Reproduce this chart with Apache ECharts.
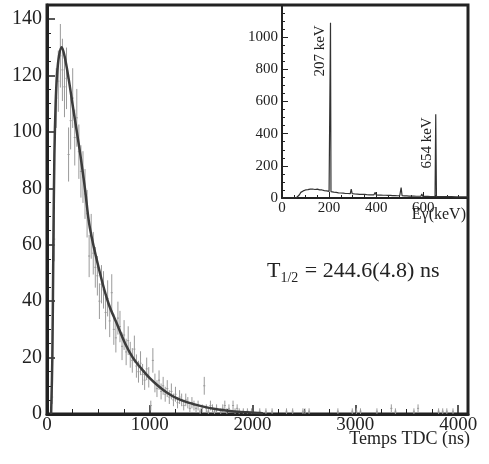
<!DOCTYPE html>
<html>
<head>
<meta charset="utf-8">
<script src="https://cdn.jsdelivr.net/npm/echarts@6/dist/echarts.min.js"></script>
<style>
  html, body { margin: 0; padding: 0; background: #fff; }
  #chart { width: 489px; height: 464px; }
</style>
</head>
<body>
<div id="chart"></div>
<script>
// TDC time spectrum, 20 ns bins from 0 to 2000 ns
var binWidth = 20;
var counts = [
  0, 0, 6, 62, 112, 118, 127, 122, 116, 119,
  92, 104, 112, 98, 105, 93, 86, 84, 78, 71,
  56, 63, 57, 52, 49, 40, 46, 44, 36, 41,
  33, 43, 30, 27, 34, 31, 24, 28, 22, 26,
  21, 19, 23, 17, 15, 18, 14, 12, 16, 13,
  3, 19, 11, 9, 12, 8, 10, 7, 9, 6,
  8, 5, 7, 4, 6, 5, 3, 5, 4, 2,
  4, 3, 2, 3, 1, 2, 10, 2, 1, 3,
  2, 1, 2, 0, 1, 2, 3, 1, 2, 0,
  3, 1, 2, 1, 0, 1, 0, 1, 0, 1
];
// sparse bins after 2000 ns: [bin start, count]
var tailBins = [
  [2060, 1], [2120, 1], [2180, 1], [2320, 1], [2380, 1], [2480, 1], [2500, 1],
  [2540, 1], [2820, 1], [2960, 1], [3000, 1], [3040, 1], [3200, 1], [3340, 2],
  [3380, 1], [3560, 1], [3600, 2], [3800, 1], [3840, 1], [3880, 1], [3940, 1]
];
// fitted curve
var fitTime  = [40, 52, 62, 72, 84, 97, 117, 143, 170, 210, 256, 320, 369, 417, 515, 600, 680, 760, 835, 920, 1000, 1080, 1165, 1260, 1360, 1500, 1650, 1800, 1950, 2100];
var fitValue = [0, 20, 60, 92, 110, 120, 127, 130, 127, 119, 108, 93, 80, 66, 50, 39, 32, 25, 20, 16, 12.7, 10, 7.6, 5.6, 4.2, 2.8, 1.7, 1.0, 0.6, 0.3];

// inset: gamma spectrum
var gammaE = [0, 60, 68, 74, 80, 90, 100, 110, 120, 130, 140, 150, 160, 170, 180, 190, 200, 204, 206, 208, 212,
  220, 230, 240, 250, 260, 270, 280, 290, 294, 298, 310, 320, 330, 340, 350, 360, 370, 380, 390, 396, 400,
  410, 420, 430, 440, 450, 460, 470, 480, 490, 500, 506, 510, 520, 530, 540, 550, 560, 570, 580, 590, 594,
  598, 610, 620, 630, 640, 650, 653, 656, 660, 680, 700, 720, 740, 760, 780, 790];
var gammaCounts = [0, 0, 2, 20, 35, 44, 50, 52, 55, 56, 53, 55, 51, 50, 46, 44, 41, 40, 1090, 40, 38,
  36, 35, 32, 31, 30, 28, 28, 27, 55, 27, 25, 24, 23, 22, 23, 21, 20, 20, 19, 35, 19,
  18, 18, 17, 17, 16, 16, 15, 15, 14, 14, 65, 14, 13, 13, 12, 12, 12, 11, 11, 11, 25,
  10, 10, 10, 9, 9, 9, 520, 9, 9, 8, 8, 8, 7, 7, 7, 7];

var serif = "'Liberation Serif', 'DejaVu Serif', serif";
var ink = '#222';

var histItems = [];
counts.forEach(function (n, i) {
  if (n > 0) histItems.push([i * binWidth, (i + 1) * binWidth, n]);
});
tailBins.forEach(function (b) {
  histItems.push([b[0], b[0] + binWidth, b[1]]);
});

var fitData = fitTime.map(function (t, i) { return [t, fitValue[i]]; });
var gammaData = gammaE.map(function (e, i) { return [e, gammaCounts[i]]; });

function plain(v) { return String(v); }

var myChart = echarts.init(document.getElementById('chart'));

myChart.setOption({
  backgroundColor: '#fff',
  animation: false,
  title: {
    left: 262,
    top: 252,
    text: '{t|T}{s|1/2}{t| = 244.6(4.8) ns}',
    textStyle: {
      rich: {
        t: { fontFamily: serif, fontSize: 22, fontWeight: 'normal', color: ink, lineHeight: 28 },
        s: { fontFamily: serif, fontSize: 14, fontWeight: 'normal', color: ink, lineHeight: 28, verticalAlign: 'bottom', padding: [0, 1, 0, 0] }
      }
    }
  },
  graphic: [
    { type: 'text', right: 19, top: 430, style: { text: 'Temps TDC (ns)', font: '18px ' + serif, fill: ink } },
    { type: 'text', right: 23, top: 207, style: { text: 'E\u03b3(keV)', font: '16px ' + serif, fill: ink } },
    { type: 'text', x: 320, y: 51, rotation: Math.PI / 2,
      style: { text: '207 keV', font: '15px ' + serif, fill: ink, align: 'center', verticalAlign: 'middle' } },
    { type: 'text', x: 427, y: 143, rotation: Math.PI / 2,
      style: { text: '654 keV', font: '15px ' + serif, fill: ink, align: 'center', verticalAlign: 'middle' } }
  ],
  grid: [
    { left: 47, top: 5, width: 421, height: 409, show: true, borderColor: ink, borderWidth: 3, backgroundColor: 'transparent' },
    { left: 282, top: 5, width: 186, height: 193, show: false }
  ],
  xAxis: [
    {
      gridIndex: 0, type: 'value', min: 0, max: 4096, interval: 1000,
      axisLine: { show: true, lineStyle: { color: ink, width: 3 } },
      axisTick: { inside: true, length: 9, lineStyle: { color: ink, width: 1.5 } },
      minorTick: { show: true, splitNumber: 4, length: 5, lineStyle: { color: ink, width: 1 } },
      axisLabel: { fontFamily: serif, fontSize: 19, color: ink, margin: 2, showMaxLabel: false, formatter: plain },
      splitLine: { show: false }
    },
    {
      gridIndex: 1, type: 'value', min: 0, max: 790, interval: 200,
      axisLine: { show: true, lineStyle: { color: ink, width: 2 } },
      axisTick: { inside: true, length: 6, lineStyle: { color: ink, width: 1 } },
      minorTick: { show: true, splitNumber: 4, length: 3, lineStyle: { color: ink, width: 1 } },
      axisLabel: { fontFamily: serif, fontSize: 15, color: ink, margin: 3, showMaxLabel: false, formatter: plain },
      splitLine: { show: false }
    }
  ],
  yAxis: [
    {
      gridIndex: 0, type: 'value', min: 0, max: 145, interval: 20,
      axisLine: { show: true, lineStyle: { color: ink, width: 3 } },
      axisTick: { inside: true, length: 8, lineStyle: { color: ink, width: 1.5 } },
      minorTick: { show: true, splitNumber: 4, length: 4, lineStyle: { color: ink, width: 1 } },
      axisLabel: { fontFamily: serif, fontSize: 20, color: ink, margin: 5, showMaxLabel: false, formatter: plain },
      splitLine: { show: false }
    },
    {
      gridIndex: 1, type: 'value', min: 0, max: 1200, interval: 200,
      axisLine: { show: true, lineStyle: { color: ink, width: 2 } },
      axisTick: { inside: true, length: 6, lineStyle: { color: ink, width: 1 } },
      minorTick: { show: true, splitNumber: 4, length: 3, lineStyle: { color: ink, width: 1 } },
      axisLabel: { fontFamily: serif, fontSize: 15, color: ink, margin: 4, showMaxLabel: false, formatter: plain },
      splitLine: { show: false }
    }
  ],
  series: [
    {
      type: 'custom',
      xAxisIndex: 0, yAxisIndex: 0,
      clip: true,
      encode: { x: [0, 1], y: 2 },
      data: histItems,
      renderItem: function (params, api) {
        var x0 = api.value(0), x1 = api.value(1), n = api.value(2);
        var e = Math.sqrt(n);
        var xm = (x0 + x1) / 2;
        var top = api.coord([xm, n + e]);
        var bot = api.coord([xm, n - e]);
        var l = api.coord([x0, n]);
        var r = api.coord([x1, n]);
        return {
          type: 'group',
          children: [
            { type: 'line', shape: { x1: top[0], y1: top[1], x2: bot[0], y2: bot[1] }, style: { stroke: '#9a9a9a', lineWidth: 1 } },
            { type: 'line', shape: { x1: l[0], y1: l[1], x2: r[0], y2: r[1] }, style: { stroke: '#9a9a9a', lineWidth: 1 } }
          ]
        };
      }
    },
    {
      type: 'line',
      xAxisIndex: 0, yAxisIndex: 0,
      data: fitData,
      smooth: 0.35,
      showSymbol: false,
      lineStyle: { color: '#3c3c3c', width: 2.5 }
    },
    {
      type: 'line',
      xAxisIndex: 1, yAxisIndex: 1,
      data: gammaData,
      showSymbol: false,
      lineStyle: { color: '#333', width: 1.2 }
    }
  ]
});
</script>
</body>
</html>
